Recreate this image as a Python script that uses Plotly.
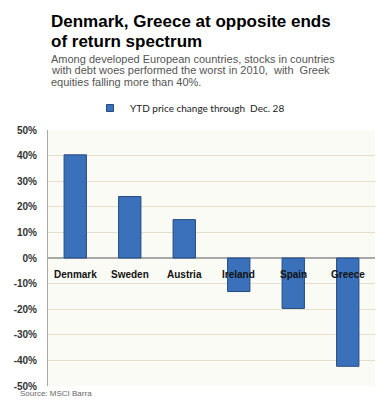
import plotly.graph_objects as go

countries = ["Denmark", "Sweden", "Austria", "Ireland", "Spain", "Greece"]
ytd_change = [40.3, 24.0, 15.0, -13.1, -19.7, -42.3]
tick_values = [50, 40, 30, 20, 10, 0, -10, -20, -30, -40, -50]
tick_labels = ["50%", "40%", "30%", "20%", "10%", "0%", "-10%", "-20%", "-30%", "-40%", "-50%"]
series_name = "YTD price change through  Dec. 28"
title_lines = ["Denmark, Greece at opposite ends", "of return spectrum"]
subtitle_lines = [
    "Among developed European countries, stocks in countries",
    "with debt woes performed the worst in 2010,  with  Greek",
    "equities falling more than 40%.",
]
source_text = "Source: MSCI Barra"

# page body adds an 8px offset; figure sized to fit the 389x400 window
OFF = 8
W, H = 389 - OFF, 400 - OFF
# plot area in window pixels: x 48..375, y 129.5..386
L = 48 - OFF
T = 129.5 - OFF
R = (389 - OFF) - (375 - OFF)
B = (400 - OFF) - (386 - OFF)
plot_h = H - T - B
plot_w = W - L - R


def py(p):  # window pixel y -> paper
    return (H - B - (p - OFF)) / plot_h


def px(p):  # window pixel x -> paper
    return ((p - OFF) - L) / plot_w


FONT = "Arial, 'Liberation Sans', sans-serif"
BAR = "#3b71ba"

fig = go.Figure()
fig.add_trace(go.Bar(
    x=countries, y=ytd_change, name=series_name,
    marker=dict(color=BAR, line=dict(color="#234a80", width=1)),
    width=0.41, showlegend=False,
))
fig.add_trace(go.Scatter(
    x=[None], y=[None], mode="markers", name=series_name,
    marker=dict(symbol="square", size=7, color=BAR, line=dict(color="#234a80", width=1)),
    showlegend=True,
))

ann = []
for i, line in enumerate(title_lines):
    ann.append(dict(text=line, xref="paper", yref="paper", x=px(49), y=py([21, 40.5][i]),
                    xanchor="left", yanchor="middle", showarrow=False,
                    font=dict(family=FONT, size=17, color="#000000", weight="bold")))
for i, line in enumerate(subtitle_lines):
    ann.append(dict(text=line, xref="paper", yref="paper", x=px(49), y=py([58, 69.5, 81][i]),
                    xanchor="left", yanchor="middle", showarrow=False,
                    font=dict(family=FONT, size=11, color="#555555")))
ann.append(dict(text=source_text, xref="paper", yref="paper", x=px(18), y=py(394),
                xanchor="left", yanchor="middle", showarrow=False,
                font=dict(family=FONT, size=8, color="#666666")))
for c in countries:
    ann.append(dict(text=c, x=c, y=0, xref="x", yref="y", yshift=-16, yanchor="middle",
                    showarrow=False, font=dict(family=FONT, size=10, color="#111111", weight="bold")))

fig.update_layout(
    width=W, height=H,
    margin=dict(l=L, r=R, t=T, b=B, pad=0, autoexpand=False),
    paper_bgcolor="#ffffff", plot_bgcolor="#fbfbf5",
    font=dict(family=FONT),
    annotations=ann,
    legend=dict(orientation="h", x=px(190), xanchor="center", y=py(107.5), yanchor="middle",
                font=dict(family="Lato, 'Noto Sans', sans-serif", size=10, color="#222222"),
                bgcolor="rgba(0,0,0,0)", itemwidth=30),
    xaxis=dict(showticklabels=False, showgrid=False, zeroline=False, showline=False, fixedrange=True),
    yaxis=dict(range=[-50, 50], tickvals=tick_values, ticktext=tick_labels,
               tickfont=dict(family=FONT, size=10, color="#333333", weight="bold"),
               showgrid=True, gridcolor="#e4e0cb", gridwidth=1,
               zeroline=True, zerolinecolor="#a8a8a8", zerolinewidth=2,
               showline=True, linecolor="#a8a8a8", linewidth=1, ticks="", ticklabelstandoff=8),
)

fig.write_html("out.html")
